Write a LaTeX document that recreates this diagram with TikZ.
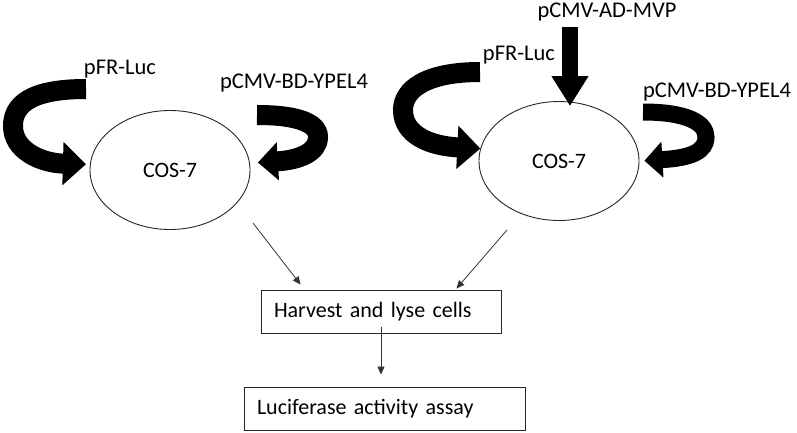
\documentclass[tikz,border=0pt]{standalone}
\usepackage{fontspec}
\setmainfont{Carlito}
\usetikzlibrary{arrows.meta,shapes.geometric}

\begin{document}
\begin{tikzpicture}[x=1pt,y=-1pt,
  cosnode/.style={draw=black!85,line width=0.9pt,ellipse,minimum width=160pt,minimum height=119pt,inner sep=0pt,font=\fontsize{22}{26}\selectfont},
  plasmid/.style={inner sep=0pt,font=\fontsize{22.5}{26}\selectfont},
  stagebox/.style={draw=black!85,line width=0.9pt,minimum height=43pt,inner xsep=13pt,inner ysep=0pt,align=left,font=\fontsize{22}{26}\selectfont},
  fatarrow/.style={line width=20pt,-{Triangle[length=23pt,width=42pt]}},
  thinarrow/.style={draw=black!80,line width=0.8pt,-{Triangle[length=8pt,width=7pt]}}]
\useasboundingbox (0,0) rectangle (797,432);

\node[cosnode] (cosL) at (170,170) {COS-7};
\node[cosnode] (cosR) at (559,161) {COS-7};

\node[plasmid] (lucL) at (120,69) {pFR-Luc};
\node[plasmid] (bdL) at (294,83) {pCMV-BD-YPEL4};
\node[plasmid] (mvp) at (607,12) {pCMV-AD-MVP};
\node[plasmid] (lucR) at (519,55) {pFR-Luc};
\node[plasmid] (bdR) at (717,92) {pCMV-BD-YPEL4};

\node[stagebox,text width=214pt] (harvest) at (381,311.5) {Harvest and lyse cells};
\node[stagebox,text width=255pt] (assay) at (384.5,408.5) {Luciferase activity assay};

% where the fat arrows start
\coordinate (lucLs) at (86,89);
\coordinate (bdLs) at (257,115);
\coordinate (lucRs) at (480,72);
\coordinate (bdRs) at (643,112);
\coordinate (mvps) at (570,27);

%left cells
\draw[fatarrow,shorten >=4pt] (lucLs) .. controls (30,89) and (13,105) .. (13,126)
  .. controls (13,150) and (40,163) .. (cosL.176);
\draw[fatarrow,-{Triangle[length=20pt,width=37pt]},shorten >=8pt] (bdLs) .. controls (295,115) and (318,122) .. (318,137)
  .. controls (318,152) and (300,160) .. (cosL.5);

%right cells
\draw[fatarrow] (lucRs) .. controls (425,72) and (403,90) .. (403,110)
  .. controls (403,135) and (430,146) .. (cosR.171);
\draw[fatarrow,line width=17pt,-{Triangle[length=18pt,width=35pt]},shorten >=5pt] (bdRs) .. controls (685,112) and (706,122) .. (706,137)
  .. controls (706,152) and (690,158) .. (cosR.0);
\draw[fatarrow,line width=16pt,-{Triangle[length=30pt,width=35pt]},shorten >=-5pt] (mvps) -- (mvps |- cosR.north);

\coordinate (outL) at (253,223);
\coordinate (outR) at (507,230);
\draw[thinarrow] (outL) -- ([shift={(40,-5)}]harvest.north west);
\draw[thinarrow] (outR) -- ([shift={(-45,-1)}]harvest.north east);
\draw[thinarrow] ([yshift=6pt]harvest.south) -- ([yshift=12pt]harvest.south |- assay.north);

\end{tikzpicture}
\end{document}
